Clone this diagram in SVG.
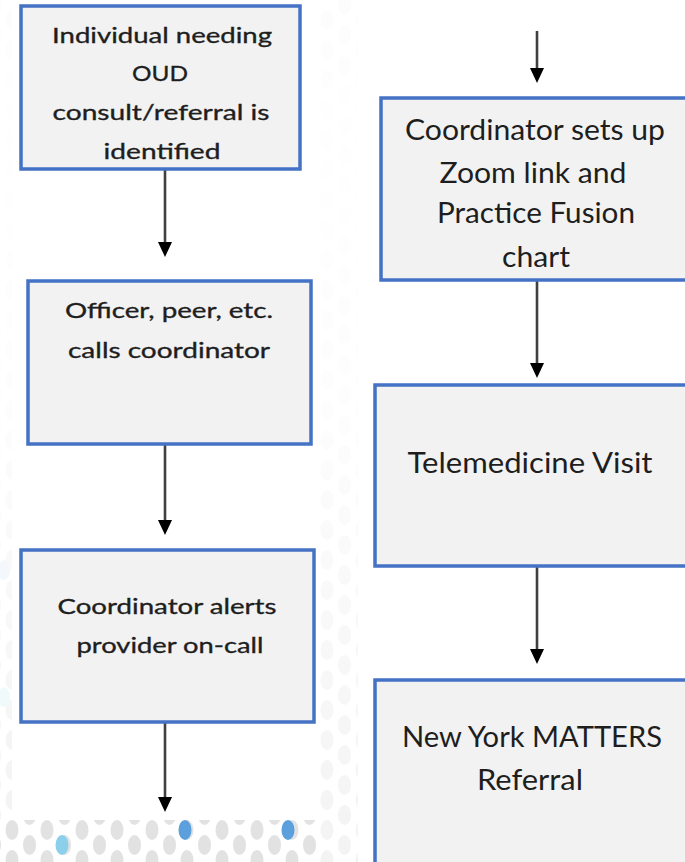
<svg xmlns="http://www.w3.org/2000/svg" width="685" height="862" viewBox="0 0 685 862">
<style>
.box{fill:#F2F2F2;stroke:#4472C4;stroke-width:3.5}
.t{font-family:Lato,"Noto Sans","Liberation Sans",sans-serif;fill:#1e1e1e;text-anchor:middle}
.s{font-size:22px;stroke:#1e1e1e;stroke-width:0.35}
.l{font-size:28px}
.c{stroke:#404040;stroke-width:2.6;fill:none}
</style>
<defs>
<pattern id="hex" patternUnits="userSpaceOnUse" x="0" y="0" width="35" height="30">
<rect width="35" height="30" fill="#ffffff"/>
<ellipse cx="12" cy="20" rx="6.5" ry="10" fill="#e2e2e2"/>
<ellipse cx="29.5" cy="5" rx="6.5" ry="10" fill="#e2e2e2"/>
<ellipse cx="-5.5" cy="5" rx="6.5" ry="10" fill="#e2e2e2"/>
<ellipse cx="29.5" cy="35" rx="6.5" ry="10" fill="#e2e2e2"/>
<ellipse cx="-5.5" cy="35" rx="6.5" ry="10" fill="#e2e2e2"/>
</pattern>
<linearGradient id="fade" x1="0" y1="0" x2="0" y2="1">
<stop offset="0" stop-color="#fff" stop-opacity="0.9"/>
<stop offset="0.15" stop-color="#fff" stop-opacity="0.98"/>
<stop offset="0.5" stop-color="#fff" stop-opacity="0.92"/>
<stop offset="1" stop-color="#fff" stop-opacity="0.6"/>
</linearGradient>
<marker id="ah" markerWidth="15" markerHeight="14" refX="0" refY="7" orient="auto" markerUnits="userSpaceOnUse" viewBox="0 0 15 14">
<path d="M0,0 L15,7 L0,14 Z" fill="#000"/>
</marker>
</defs>
<g id="background">
<rect width="685" height="862" fill="url(#hex)"/>
<ellipse cx="62" cy="845" rx="6.5" ry="10" fill="#8ccfea"/>
<ellipse cx="185" cy="830" rx="6.5" ry="10" fill="#5b9fdc"/>
<ellipse cx="288" cy="830" rx="6.5" ry="10" fill="#5b9fdc"/>
<ellipse cx="4" cy="570" rx="6" ry="10" fill="#c9def2"/>
<ellipse cx="4" cy="697" rx="6" ry="10" fill="#cdeef2"/>
<rect x="0" y="0" width="12" height="820" fill="url(#fade)"/>
<rect x="319" y="0" width="39" height="862" fill="url(#fade)"/>
<rect x="12" y="0" width="307" height="820" fill="#ffffff"/>
<rect x="358" y="0" width="327" height="862" fill="#ffffff"/>
</g>
<g id="connectors">
<line class="c" x1="165" y1="170" x2="165" y2="242" marker-end="url(#ah)"/>
<line class="c" x1="165" y1="445" x2="165" y2="520" marker-end="url(#ah)"/>
<line class="c" x1="165" y1="723" x2="165" y2="797" marker-end="url(#ah)"/>
<line class="c" x1="537" y1="31" x2="537" y2="68" marker-end="url(#ah)"/>
<line class="c" x1="537" y1="281" x2="537" y2="363" marker-end="url(#ah)"/>
<line class="c" x1="537" y1="567" x2="537" y2="649" marker-end="url(#ah)"/>
</g>
<g id="node1">
<rect class="box" x="21" y="6" width="279" height="163"/>
<text class="t s" x="162" y="43" textLength="220" lengthAdjust="spacingAndGlyphs">Individual needing</text>
<text class="t s" x="160" y="81" textLength="56" lengthAdjust="spacingAndGlyphs">OUD</text>
<text class="t s" x="161" y="120" textLength="217" lengthAdjust="spacingAndGlyphs">consult/referral is</text>
<text class="t s" x="162" y="159" textLength="117" lengthAdjust="spacingAndGlyphs">identified</text>
</g>
<g id="node2">
<rect class="box" x="28" y="281" width="283" height="163"/>
<text class="t s" x="169" y="318" textLength="208" lengthAdjust="spacingAndGlyphs">Officer, peer, etc.</text>
<text class="t s" x="169" y="358" textLength="202" lengthAdjust="spacingAndGlyphs">calls coordinator</text>
</g>
<g id="node3">
<rect class="box" x="21" y="550" width="293" height="172"/>
<text class="t s" x="167" y="614" textLength="219" lengthAdjust="spacingAndGlyphs">Coordinator alerts</text>
<text class="t s" x="170" y="653" textLength="187" lengthAdjust="spacingAndGlyphs">provider on-call</text>
</g>
<g id="node4">
<rect class="box" x="381" y="98" width="320" height="182"/>
<text class="t l" x="535" y="140" textLength="260" lengthAdjust="spacingAndGlyphs">Coordinator sets up</text>
<text class="t l" x="533" y="183" textLength="187" lengthAdjust="spacingAndGlyphs">Zoom link and</text>
<text class="t l" x="536" y="223" textLength="198" lengthAdjust="spacingAndGlyphs">Practice Fusion</text>
<text class="t l" x="536" y="267" textLength="68" lengthAdjust="spacingAndGlyphs">chart</text>
</g>
<g id="node5">
<rect class="box" x="375" y="385" width="330" height="181"/>
<text class="t l" x="530" y="473" textLength="245" lengthAdjust="spacingAndGlyphs">Telemedicine Visit</text>
</g>
<g id="node6">
<rect class="box" x="375" y="680" width="330" height="200"/>
<text class="t l" x="532" y="747" textLength="260" lengthAdjust="spacingAndGlyphs">New York MATTERS</text>
<text class="t l" x="530" y="790" textLength="106" lengthAdjust="spacingAndGlyphs">Referral</text>
</g>
</svg>
